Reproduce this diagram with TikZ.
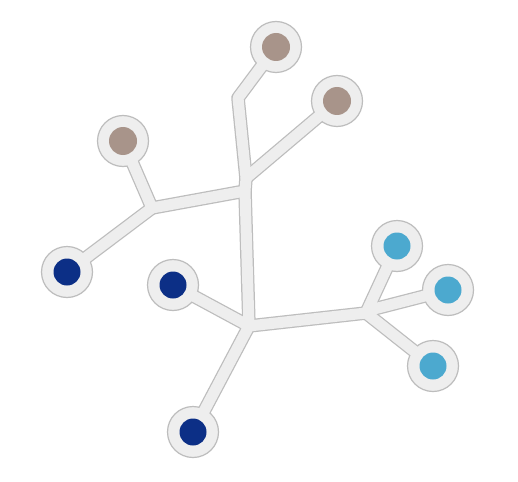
\documentclass[tikz,border=0pt]{standalone}
\definecolor{brgray}{HTML}{BDBDBD}
\definecolor{brfill}{HTML}{EEEEEE}
\definecolor{brown}{HTML}{A8948A}
\definecolor{dblue}{HTML}{0C2F86}
\definecolor{lblue}{HTML}{4CA9CF}
\begin{document}
\begin{tikzpicture}[x=1pt,y=-1pt,
  branchout/.style={line width=13.5pt, draw=brgray, line cap=round, line join=round},
  branchin/.style={line width=11pt, draw=brfill, line cap=round, line join=round},
  ring/.style={circle, minimum size=51pt, inner sep=0pt, fill=brfill, draw=brgray, line width=1.2pt},
  dotnode/.style={circle, minimum size=27pt, inner sep=0pt}]
\fill[white] (0,0) rectangle (518,481);
\useasboundingbox (0,0) rectangle (518,481);
% centers
\coordinate (tB) at (276,47);
\coordinate (rB) at (337,101);
\coordinate (lB) at (123,141);
\coordinate (lD) at (67,272);
\coordinate (mD) at (173,285);
\coordinate (bD) at (193,432);
\coordinate (L1) at (397,246);
\coordinate (L2) at (448,290);
\coordinate (L3) at (433,366);
% junctions
\coordinate (bend) at (238,98);
\coordinate (jR) at (246,178);
\coordinate (jL) at (245,191);
\coordinate (jl) at (152,208);
\coordinate (jb) at (249,326);
\coordinate (jr) at (366,313);
\coordinate (jr2) at (374,309);
% outlines
\foreach \s in {branchout}{
\draw[\s] (tB) -- (bend) -- (jR) -- (jL) -- (jb);
\draw[\s] (rB) -- (jR);
\draw[\s] (jL) -- (jl) -- (lB);
\draw[\s] (jl) -- (lD);
\draw[\s] (mD) -- (jb) -- (bD);
\draw[\s] (jb) -- (jr) -- (L1);
\draw[\s] (jr) -- (jr2) -- (L2);
\draw[\s] (jr) -- (L3);
}
% rings
\foreach \n in {tB,rB,lB,lD,mD,bD,L1,L2,L3}{
\node[ring] (ring\n) at (\n) {};
}
% inner branches
\foreach \s in {branchin}{
\draw[\s] (tB) -- (bend) -- (jR) -- (jL) -- (jb);
\draw[\s] (rB) -- (jR);
\draw[\s] (jL) -- (jl) -- (lB);
\draw[\s] (jl) -- (lD);
\draw[\s] (mD) -- (jb) -- (bD);
\draw[\s] (jb) -- (jr) -- (L1);
\draw[\s] (jr) -- (jr2) -- (L2);
\draw[\s] (jr) -- (L3);
}
% dots
\node[dotnode, fill=brown, minimum size=28pt] (dtB) at (tB) {};
\node[dotnode, fill=brown, minimum size=28pt] (drB) at (rB) {};
\node[dotnode, fill=brown, minimum size=28pt] (dlB) at (lB) {};
\node[dotnode, fill=dblue] (dlD) at (lD) {};
\node[dotnode, fill=dblue] (dmD) at (mD) {};
\node[dotnode, fill=dblue] (dbD) at (bD) {};
\node[dotnode, fill=lblue] (dL1) at (L1) {};
\node[dotnode, fill=lblue] (dL2) at (L2) {};
\node[dotnode, fill=lblue] (dL3) at (L3) {};
\end{tikzpicture}
\end{document}
